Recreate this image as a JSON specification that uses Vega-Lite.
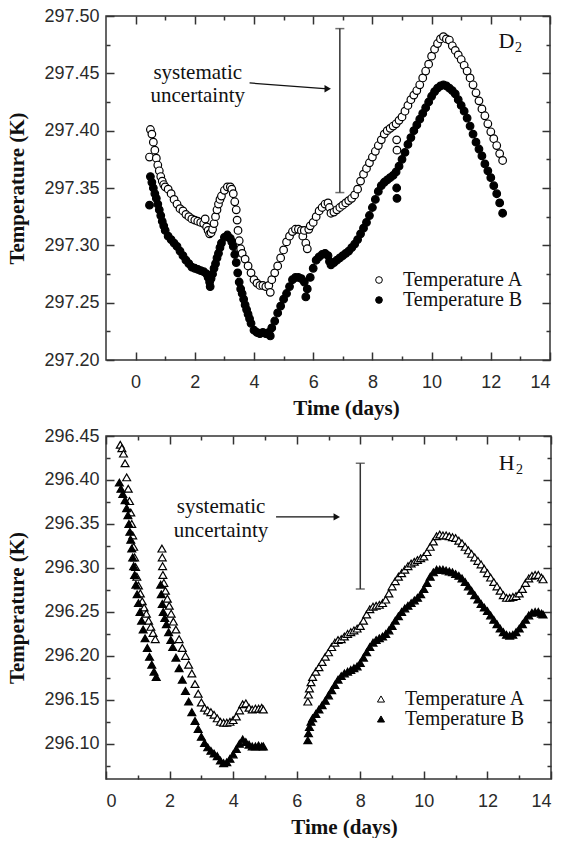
{
"$schema":"https://vega.github.io/schema/vega-lite/v6.json",
"padding":{"left":6,"top":6,"right":0,"bottom":0},
"background":"white",
"spacing":7,
"config":{
 "view":{"stroke":"#333","strokeWidth":1.5},
 "axis":{"labelFont":"Liberation Sans","labelFontSize":18,"labelColor":"#2a2a2a","titleFont":"Liberation Serif","titleFontSize":21,"titleFontWeight":"bold","titleColor":"#111","tickColor":"#333","tickWidth":1.5,"domain":false,"grid":false},
 "legend":{"labelFont":"Liberation Serif","labelFontSize":20,"labelColor":"#111"}
},
"resolve":{"scale":{"x":"independent","y":"independent","fill":"independent"},"legend":{"fill":"independent"}},
"datasets":{
"d2":[
{"t":0.47,"A":297.377,"B":297.335},
{"t":0.5,"A":297.401,"B":297.360},{"t":0.55,"A":297.397,"B":297.355},{"t":0.6,"A":297.390,"B":297.350},{"t":0.65,"A":297.383,"B":297.345},{"t":0.7,"A":297.376,"B":297.341},{"t":0.75,"A":297.370,"B":297.336},{"t":0.8,"A":297.365,"B":297.331},{"t":0.85,"A":297.360,"B":297.326},{"t":0.9,"A":297.356,"B":297.321},{"t":0.95,"A":297.353,"B":297.317},{"t":1.0,"A":297.351,"B":297.313},
{"t":1.1,"A":297.349,"B":297.308},{"t":1.2,"A":297.345,"B":297.305},{"t":1.3,"A":297.340,"B":297.302},{"t":1.4,"A":297.336,"B":297.299},{"t":1.5,"A":297.332,"B":297.295},{"t":1.6,"A":297.330,"B":297.291},{"t":1.7,"A":297.327,"B":297.287},{"t":1.8,"A":297.325,"B":297.284},{"t":1.9,"A":297.323,"B":297.281},{"t":2.0,"A":297.322,"B":297.280},{"t":2.1,"A":297.321,"B":297.279},{"t":2.2,"A":297.320,"B":297.278},{"t":2.3,"A":297.319,"B":297.277},{"t":2.35,"A":297.323},{"t":2.4,"A":297.316,"B":297.275},
{"t":2.45,"A":297.313,"B":297.272},{"t":2.5,"A":297.310,"B":297.268},{"t":2.52,"B":297.264},{"t":2.55,"A":297.311,"B":297.271},{"t":2.6,"A":297.314,"B":297.275},{"t":2.65,"A":297.319,"B":297.280},{"t":2.7,"A":297.325,"B":297.284},{"t":2.75,"A":297.331,"B":297.289},{"t":2.8,"A":297.336,"B":297.293},{"t":2.85,"A":297.340,"B":297.298},{"t":2.9,"A":297.343,"B":297.302},{"t":3.0,"A":297.348,"B":297.307},{"t":3.1,"A":297.351,"B":297.309},{"t":3.2,"A":297.351,"B":297.306},{"t":3.25,"A":297.349,"B":297.303},{"t":3.3,"A":297.345,"B":297.299},{"t":3.35,"A":297.338,"B":297.292},{"t":3.4,"A":297.331,"B":297.285},{"t":3.43,"A":297.322},{"t":3.45,"B":297.276},{"t":3.46,"A":297.313},{"t":3.5,"A":297.304,"B":297.268},{"t":3.55,"A":297.297,"B":297.262},{"t":3.6,"A":297.293,"B":297.258},{"t":3.65,"B":297.253},{"t":3.7,"A":297.288,"B":297.248},{"t":3.75,"B":297.244},{"t":3.8,"A":297.282,"B":297.240},{"t":3.85,"B":297.236},{"t":3.9,"A":297.276,"B":297.232},
{"t":4.0,"A":297.270,"B":297.226},{"t":4.1,"A":297.267,"B":297.224},{"t":4.2,"A":297.265,"B":297.223},{"t":4.3,"A":297.265,"B":297.224},{"t":4.4,"A":297.264,"B":297.223},{"t":4.5,"A":297.265,"B":297.224},{"t":4.55,"A":297.259,"B":297.221},{"t":4.6,"A":297.270,"B":297.228},{"t":4.7,"A":297.276,"B":297.234},{"t":4.8,"A":297.282,"B":297.241},{"t":4.9,"A":297.289,"B":297.247},{"t":5.0,"A":297.296,"B":297.253},{"t":5.1,"A":297.303,"B":297.258},{"t":5.2,"A":297.308,"B":297.264},{"t":5.3,"A":297.312,"B":297.270},{"t":5.4,"A":297.314,"B":297.272},{"t":5.5,"A":297.314,"B":297.272},{"t":5.6,"A":297.313,"B":297.271},{"t":5.65,"A":297.308},{"t":5.7,"A":297.313,"B":297.268},{"t":5.75,"A":297.302,"B":297.255},{"t":5.8,"A":297.297,"B":297.262},{"t":5.85,"A":297.314},{"t":5.9,"A":297.317,"B":297.272},
{"t":6.0,"A":297.320,"B":297.280},{"t":6.1,"A":297.325,"B":297.287},{"t":6.2,"A":297.330,"B":297.290},{"t":6.3,"A":297.333,"B":297.292},{"t":6.4,"A":297.336,"B":297.293},{"t":6.5,"A":297.337,"B":297.291},{"t":6.55,"A":297.333,"B":297.286},{"t":6.6,"A":297.328,"B":297.283},{"t":6.7,"A":297.329,"B":297.285},{"t":6.8,"A":297.331,"B":297.287},{"t":6.9,"A":297.333,"B":297.289},{"t":7.0,"A":297.335,"B":297.291},{"t":7.1,"A":297.337,"B":297.293},{"t":7.2,"A":297.339,"B":297.295},{"t":7.3,"A":297.341,"B":297.298},{"t":7.4,"A":297.344,"B":297.301},{"t":7.5,"A":297.349,"B":297.305},{"t":7.6,"A":297.356,"B":297.310},{"t":7.7,"A":297.362,"B":297.315},{"t":7.8,"A":297.367,"B":297.320},{"t":7.9,"A":297.372,"B":297.326},
{"t":8.0,"A":297.377,"B":297.333},{"t":8.1,"A":297.382,"B":297.340},{"t":8.2,"A":297.387,"B":297.347},{"t":8.3,"A":297.392,"B":297.352},{"t":8.4,"A":297.397,"B":297.355},{"t":8.5,"A":297.400,"B":297.357},{"t":8.6,"A":297.402,"B":297.359},{"t":8.7,"A":297.404,"B":297.361},{"t":8.8,"A":297.406,"B":297.364},{"t":8.82,"A":297.392,"B":297.350},{"t":8.83,"A":297.383,"B":297.341},{"t":8.9,"A":297.409,"B":297.369},
{"t":9.0,"A":297.412,"B":297.375},{"t":9.1,"A":297.417,"B":297.381},{"t":9.2,"A":297.422,"B":297.388},{"t":9.3,"A":297.427,"B":297.394},{"t":9.4,"A":297.431,"B":297.400},{"t":9.5,"A":297.435,"B":297.405},{"t":9.6,"A":297.440,"B":297.410},{"t":9.7,"A":297.446,"B":297.415},{"t":9.8,"A":297.452,"B":297.420},{"t":9.9,"A":297.458,"B":297.425},
{"t":10.0,"A":297.465,"B":297.430},{"t":10.1,"A":297.471,"B":297.434},{"t":10.2,"A":297.476,"B":297.437},{"t":10.3,"A":297.480,"B":297.439},{"t":10.4,"A":297.482,"B":297.440},{"t":10.5,"A":297.480,"B":297.439},{"t":10.6,"A":297.479,"B":297.437},{"t":10.7,"A":297.474,"B":297.435},{"t":10.8,"A":297.470,"B":297.432},{"t":10.9,"A":297.466,"B":297.427},
{"t":11.0,"A":297.462,"B":297.422},{"t":11.1,"A":297.457,"B":297.417},{"t":11.2,"A":297.452,"B":297.411},{"t":11.3,"A":297.446,"B":297.404},{"t":11.4,"A":297.440,"B":297.397},{"t":11.5,"A":297.433,"B":297.390},{"t":11.6,"A":297.426,"B":297.384},{"t":11.7,"A":297.419,"B":297.378},{"t":11.8,"A":297.413,"B":297.371},{"t":11.9,"A":297.406,"B":297.365},
{"t":12.0,"A":297.399,"B":297.359},{"t":12.1,"A":297.393,"B":297.352},{"t":12.2,"A":297.387,"B":297.345},{"t":12.3,"A":297.380,"B":297.337},{"t":12.4,"A":297.374,"B":297.328}
],
"h2":[
{"s":"A","t":0.45,"v":296.440},{"s":"A","t":0.5,"v":296.436},{"s":"A","t":0.55,"v":296.430},{"s":"A","t":0.6,"v":296.419},{"s":"A","t":0.65,"v":296.403},{"s":"A","t":0.7,"v":296.390},{"s":"A","t":0.74,"v":296.376},{"s":"A","t":0.78,"v":296.363},{"s":"A","t":0.81,"v":296.350},{"s":"A","t":0.84,"v":296.337},{"s":"A","t":0.87,"v":296.324},{"s":"A","t":0.9,"v":296.312},{"s":"A","t":0.93,"v":296.301},{"s":"A","t":0.97,"v":296.290},{"s":"A","t":1.02,"v":296.280},{"s":"A","t":1.08,"v":296.271},{"s":"A","t":1.14,"v":296.262},{"s":"A","t":1.2,"v":296.255},{"s":"A","t":1.27,"v":296.248},{"s":"A","t":1.34,"v":296.240},{"s":"A","t":1.41,"v":296.233},{"s":"A","t":1.48,"v":296.226},{"s":"A","t":1.55,"v":296.219},
{"s":"B","t":0.42,"v":296.397},{"s":"B","t":0.47,"v":296.390},{"s":"B","t":0.53,"v":296.384},{"s":"B","t":0.6,"v":296.377},{"s":"B","t":0.65,"v":296.368},{"s":"B","t":0.69,"v":296.360},{"s":"B","t":0.72,"v":296.350},{"s":"B","t":0.75,"v":296.341},{"s":"B","t":0.78,"v":296.332},{"s":"B","t":0.81,"v":296.322},{"s":"B","t":0.84,"v":296.312},{"s":"B","t":0.87,"v":296.302},{"s":"B","t":0.9,"v":296.292},{"s":"B","t":0.94,"v":296.281},{"s":"B","t":0.98,"v":296.270},{"s":"B","t":1.02,"v":296.260},{"s":"B","t":1.07,"v":296.250},{"s":"B","t":1.12,"v":296.240},{"s":"B","t":1.17,"v":296.230},{"s":"B","t":1.23,"v":296.220},{"s":"B","t":1.3,"v":296.209},{"s":"B","t":1.37,"v":296.199},{"s":"B","t":1.44,"v":296.190},{"s":"B","t":1.51,"v":296.182},{"s":"B","t":1.58,"v":296.176},
{"s":"A","t":1.76,"v":296.322},{"s":"A","t":1.77,"v":296.312},{"s":"A","t":1.78,"v":296.302},{"s":"A","t":1.79,"v":296.292},{"s":"A","t":1.82,"v":296.283},{"s":"A","t":1.87,"v":296.274},{"s":"A","t":1.93,"v":296.265},{"s":"A","t":1.99,"v":296.257},{"s":"A","t":2.05,"v":296.248},{"s":"A","t":2.12,"v":296.239},{"s":"A","t":2.2,"v":296.230},{"s":"A","t":2.3,"v":296.219},{"s":"A","t":2.4,"v":296.209},{"s":"A","t":2.5,"v":296.200},{"s":"A","t":2.6,"v":296.190},{"s":"A","t":2.7,"v":296.180},{"s":"A","t":2.8,"v":296.168},{"s":"A","t":2.9,"v":296.157},{"s":"A","t":3.0,"v":296.147},{"s":"A","t":3.1,"v":296.141},{"s":"A","t":3.2,"v":296.138},{"s":"A","t":3.3,"v":296.136},{"s":"A","t":3.4,"v":296.133},{"s":"A","t":3.5,"v":296.129},{"s":"A","t":3.6,"v":296.125},{"s":"A","t":3.7,"v":296.124},{"s":"A","t":3.8,"v":296.124},{"s":"A","t":3.9,"v":296.125},{"s":"A","t":4.0,"v":296.127},{"s":"A","t":4.1,"v":296.131},{"s":"A","t":4.2,"v":296.138},{"s":"A","t":4.3,"v":296.145},{"s":"A","t":4.4,"v":296.146},{"s":"A","t":4.5,"v":296.141},{"s":"A","t":4.6,"v":296.139},{"s":"A","t":4.7,"v":296.140},{"s":"A","t":4.8,"v":296.140},{"s":"A","t":4.9,"v":296.141},{"s":"A","t":4.95,"v":296.139},
{"s":"B","t":1.72,"v":296.281},{"s":"B","t":1.74,"v":296.270},{"s":"B","t":1.77,"v":296.259},{"s":"B","t":1.8,"v":296.250},{"s":"B","t":1.85,"v":296.243},{"s":"B","t":1.9,"v":296.236},{"s":"B","t":1.97,"v":296.227},{"s":"B","t":2.04,"v":296.218},{"s":"B","t":2.1,"v":296.210},{"s":"B","t":2.2,"v":296.198},{"s":"B","t":2.3,"v":296.186},{"s":"B","t":2.4,"v":296.173},{"s":"B","t":2.5,"v":296.160},{"s":"B","t":2.6,"v":296.148},{"s":"B","t":2.7,"v":296.136},{"s":"B","t":2.8,"v":296.126},{"s":"B","t":2.9,"v":296.117},{"s":"B","t":3.0,"v":296.108},{"s":"B","t":3.1,"v":296.101},{"s":"B","t":3.2,"v":296.096},{"s":"B","t":3.3,"v":296.092},{"s":"B","t":3.4,"v":296.089},{"s":"B","t":3.5,"v":296.086},{"s":"B","t":3.6,"v":296.081},{"s":"B","t":3.7,"v":296.078},{"s":"B","t":3.8,"v":296.079},{"s":"B","t":3.9,"v":296.083},{"s":"B","t":4.0,"v":296.088},{"s":"B","t":4.1,"v":296.094},{"s":"B","t":4.2,"v":296.100},{"s":"B","t":4.3,"v":296.105},{"s":"B","t":4.4,"v":296.102},{"s":"B","t":4.5,"v":296.099},{"s":"B","t":4.6,"v":296.097},{"s":"B","t":4.7,"v":296.097},{"s":"B","t":4.8,"v":296.098},{"s":"B","t":4.9,"v":296.097},{"s":"B","t":4.95,"v":296.097},
{"s":"A","t":6.35,"v":296.148},{"s":"A","t":6.37,"v":296.156},{"s":"A","t":6.4,"v":296.163},{"s":"A","t":6.45,"v":296.170},{"s":"A","t":6.5,"v":296.176},{"s":"A","t":6.6,"v":296.182},{"s":"A","t":6.7,"v":296.187},{"s":"A","t":6.8,"v":296.193},{"s":"A","t":6.9,"v":296.199},{"s":"A","t":7.0,"v":296.204},{"s":"A","t":7.1,"v":296.210},{"s":"A","t":7.2,"v":296.215},{"s":"A","t":7.3,"v":296.218},{"s":"A","t":7.4,"v":296.219},{"s":"A","t":7.5,"v":296.222},{"s":"A","t":7.6,"v":296.225},{"s":"A","t":7.7,"v":296.227},{"s":"A","t":7.8,"v":296.229},{"s":"A","t":7.9,"v":296.231},{"s":"A","t":8.0,"v":296.234},{"s":"A","t":8.1,"v":296.240},{"s":"A","t":8.2,"v":296.247},{"s":"A","t":8.3,"v":296.253},{"s":"A","t":8.4,"v":296.256},{"s":"A","t":8.5,"v":296.257},{"s":"A","t":8.6,"v":296.258},{"s":"A","t":8.7,"v":296.260},{"s":"A","t":8.8,"v":296.264},{"s":"A","t":8.9,"v":296.271},{"s":"A","t":9.0,"v":296.279},{"s":"A","t":9.1,"v":296.285},{"s":"A","t":9.2,"v":296.290},{"s":"A","t":9.3,"v":296.294},{"s":"A","t":9.4,"v":296.298},{"s":"A","t":9.5,"v":296.302},{"s":"A","t":9.6,"v":296.305},{"s":"A","t":9.7,"v":296.307},{"s":"A","t":9.8,"v":296.309},{"s":"A","t":9.9,"v":296.311},{"s":"A","t":10.0,"v":296.313},{"s":"A","t":10.1,"v":296.318},{"s":"A","t":10.2,"v":296.324},{"s":"A","t":10.3,"v":296.330},{"s":"A","t":10.4,"v":296.336},{"s":"A","t":10.5,"v":296.338},{"s":"A","t":10.6,"v":296.337},{"s":"A","t":10.7,"v":296.337},{"s":"A","t":10.8,"v":296.336},{"s":"A","t":10.9,"v":296.335},{"s":"A","t":11.0,"v":296.334},{"s":"A","t":11.1,"v":296.331},{"s":"A","t":11.2,"v":296.328},{"s":"A","t":11.3,"v":296.324},{"s":"A","t":11.4,"v":296.320},{"s":"A","t":11.5,"v":296.316},{"s":"A","t":11.6,"v":296.312},{"s":"A","t":11.7,"v":296.308},{"s":"A","t":11.8,"v":296.304},{"s":"A","t":11.9,"v":296.299},{"s":"A","t":12.0,"v":296.294},{"s":"A","t":12.1,"v":296.289},{"s":"A","t":12.2,"v":296.284},{"s":"A","t":12.3,"v":296.279},{"s":"A","t":12.4,"v":296.274},{"s":"A","t":12.5,"v":296.269},{"s":"A","t":12.6,"v":296.266},{"s":"A","t":12.7,"v":296.266},{"s":"A","t":12.8,"v":296.267},{"s":"A","t":12.9,"v":296.268},{"s":"A","t":13.0,"v":296.271},{"s":"A","t":13.1,"v":296.276},{"s":"A","t":13.2,"v":296.283},{"s":"A","t":13.3,"v":296.288},{"s":"A","t":13.4,"v":296.291},{"s":"A","t":13.5,"v":296.292},{"s":"A","t":13.6,"v":296.292},{"s":"A","t":13.7,"v":296.289},{"s":"A","t":13.75,"v":296.287},
{"s":"B","t":6.35,"v":296.104},{"s":"B","t":6.37,"v":296.112},{"s":"B","t":6.4,"v":296.119},{"s":"B","t":6.45,"v":296.125},{"s":"B","t":6.5,"v":296.129},{"s":"B","t":6.6,"v":296.134},{"s":"B","t":6.7,"v":296.139},{"s":"B","t":6.8,"v":296.144},{"s":"B","t":6.9,"v":296.149},{"s":"B","t":7.0,"v":296.155},{"s":"B","t":7.1,"v":296.161},{"s":"B","t":7.2,"v":296.167},{"s":"B","t":7.3,"v":296.173},{"s":"B","t":7.4,"v":296.177},{"s":"B","t":7.5,"v":296.180},{"s":"B","t":7.6,"v":296.182},{"s":"B","t":7.7,"v":296.184},{"s":"B","t":7.8,"v":296.186},{"s":"B","t":7.9,"v":296.188},{"s":"B","t":8.0,"v":296.192},{"s":"B","t":8.1,"v":296.198},{"s":"B","t":8.2,"v":296.204},{"s":"B","t":8.3,"v":296.210},{"s":"B","t":8.4,"v":296.215},{"s":"B","t":8.5,"v":296.218},{"s":"B","t":8.6,"v":296.220},{"s":"B","t":8.7,"v":296.222},{"s":"B","t":8.8,"v":296.225},{"s":"B","t":8.9,"v":296.229},{"s":"B","t":9.0,"v":296.234},{"s":"B","t":9.1,"v":296.240},{"s":"B","t":9.2,"v":296.245},{"s":"B","t":9.3,"v":296.250},{"s":"B","t":9.4,"v":296.254},{"s":"B","t":9.5,"v":296.257},{"s":"B","t":9.6,"v":296.260},{"s":"B","t":9.7,"v":296.263},{"s":"B","t":9.8,"v":296.266},{"s":"B","t":9.9,"v":296.270},{"s":"B","t":10.0,"v":296.276},{"s":"B","t":10.1,"v":296.283},{"s":"B","t":10.2,"v":296.290},{"s":"B","t":10.3,"v":296.295},{"s":"B","t":10.4,"v":296.298},{"s":"B","t":10.5,"v":296.298},{"s":"B","t":10.6,"v":296.298},{"s":"B","t":10.7,"v":296.297},{"s":"B","t":10.8,"v":296.296},{"s":"B","t":10.9,"v":296.295},{"s":"B","t":11.0,"v":296.293},{"s":"B","t":11.1,"v":296.291},{"s":"B","t":11.2,"v":296.288},{"s":"B","t":11.3,"v":296.284},{"s":"B","t":11.4,"v":296.279},{"s":"B","t":11.5,"v":296.274},{"s":"B","t":11.6,"v":296.269},{"s":"B","t":11.7,"v":296.264},{"s":"B","t":11.8,"v":296.259},{"s":"B","t":11.9,"v":296.255},{"s":"B","t":12.0,"v":296.251},{"s":"B","t":12.1,"v":296.246},{"s":"B","t":12.2,"v":296.241},{"s":"B","t":12.3,"v":296.236},{"s":"B","t":12.4,"v":296.231},{"s":"B","t":12.5,"v":296.227},{"s":"B","t":12.6,"v":296.224},{"s":"B","t":12.7,"v":296.223},{"s":"B","t":12.8,"v":296.224},{"s":"B","t":12.9,"v":296.227},{"s":"B","t":13.0,"v":296.231},{"s":"B","t":13.1,"v":296.236},{"s":"B","t":13.2,"v":296.241},{"s":"B","t":13.3,"v":296.246},{"s":"B","t":13.4,"v":296.249},{"s":"B","t":13.5,"v":296.250},{"s":"B","t":13.6,"v":296.250},{"s":"B","t":13.7,"v":296.248},{"s":"B","t":13.75,"v":296.247}
]
},
"vconcat":[
{
 "width":444,"height":344,
 "resolve":{"axis":{"x":"independent","y":"independent"}},
 "layer":[
  {"data":{"name":"d2"},
   "transform":[{"fold":["A","B"],"as":["s","v"]},{"filter":"isValid(datum.v)"}],
   "mark":{"type":"point","shape":"circle","filled":true,"stroke":"black","strokeWidth":1.2,"size":58,"opacity":1},
   "encoding":{
    "x":{"field":"t","type":"quantitative","scale":{"domain":[-1,14],"nice":false,"zero":false},
      "axis":{"orient":"bottom","values":[0,2,4,6,8,10,12,14],"tickSize":-8,"labelPadding":21,"title":"Time (days)","titleX":240,"titleAlign":"center","titlePadding":6}},
    "y":{"field":"v","type":"quantitative","scale":{"domain":[297.2,297.5],"nice":false,"zero":false},
      "axis":{"orient":"left","values":[297.2,297.25,297.3,297.35,297.4,297.45,297.5],"format":".2f","tickSize":-8,"labelPadding":15,"title":"Temperature (K)","titlePadding":16}},
    "fill":{"field":"s","type":"nominal","scale":{"domain":["A","B"],"range":["white","black"]},
      "legend":{"title":null,"orient":"none","legendX":263,"legendY":254,"labelExpr":"'Temperature ' + datum.label","symbolType":"circle","symbolStrokeColor":"black","symbolStrokeWidth":1,"symbolSize":45,"labelOffset":14,"rowPadding":0,"padding":0}}
   }},
  {"data":{"values":[{"t":6.9,"lo":297.346,"hi":297.489}]},
   "mark":{"type":"rule","color":"#333","strokeWidth":1.5},
   "encoding":{
    "x":{"field":"t","type":"quantitative","scale":{"domain":[-1,14],"nice":false,"zero":false},
      "axis":{"orient":"top","values":[0,2,4,6,8,10,12,14],"labels":false,"title":null,"tickSize":-8}},
    "y":{"field":"lo","type":"quantitative","scale":{"domain":[297.2,297.5],"nice":false,"zero":false},
      "axis":{"orient":"right","values":[297.2,297.25,297.3,297.35,297.4,297.45,297.5],"labels":false,"title":null,"tickSize":-8}},
    "y2":{"field":"hi"}
   }},
  {"data":{"values":[{"t":6.9,"v":297.346},{"t":6.9,"v":297.489}]},
   "mark":{"type":"tick","orient":"horizontal","size":9,"thickness":1.5,"color":"#333"},
   "encoding":{
    "x":{"field":"t","type":"quantitative","scale":{"domain":[-1,14],"nice":false,"zero":false},
      "axis":{"orient":"bottom","values":[1,3,5,7,9,11,13],"labels":false,"title":null,"tickSize":-4}},
    "y":{"field":"v","type":"quantitative","scale":{"domain":[297.2,297.5],"nice":false,"zero":false},
      "axis":{"orient":"left","values":[297.225,297.275,297.325,297.375,297.425,297.475],"labels":false,"title":null,"tickSize":-4}}
   }},
  {"data":{"values":[{"t":3.85,"v":297.4416,"t2":6.49,"v2":297.4365}]},
   "mark":{"type":"rule","color":"#111","strokeWidth":1.3},
   "encoding":{
    "x":{"field":"t","type":"quantitative","scale":{"domain":[-1,14],"nice":false,"zero":false},
      "axis":{"orient":"top","values":[1,3,5,7,9,11,13],"labels":false,"title":null,"tickSize":-4}},
    "y":{"field":"v","type":"quantitative","scale":{"domain":[297.2,297.5],"nice":false,"zero":false},
      "axis":{"orient":"right","values":[297.225,297.275,297.325,297.375,297.425,297.475],"labels":false,"title":null,"tickSize":-4}},
    "x2":{"field":"t2"},"y2":{"field":"v2"}
   }},
  {"data":{"values":[{"t":6.49,"v":297.4365}]},
   "mark":{"type":"point","shape":"triangle-right","filled":true,"color":"#111","size":55,"opacity":1},
   "encoding":{
    "x":{"field":"t","type":"quantitative","scale":{"domain":[-1,14],"nice":false,"zero":false},"axis":null},
    "y":{"field":"v","type":"quantitative","scale":{"domain":[297.2,297.5],"nice":false,"zero":false},"axis":null}
   }},
  {"data":{"values":[{"t":2.1,"v":297.445,"txt":"systematic"},{"t":2.1,"v":297.425,"txt":"uncertainty"}]},
   "mark":{"type":"text","font":"Liberation Serif","fontSize":21,"align":"center","baseline":"alphabetic","color":"#111"},
   "encoding":{
    "x":{"field":"t","type":"quantitative","scale":{"domain":[-1,14],"nice":false,"zero":false},"axis":null},
    "y":{"field":"v","type":"quantitative","scale":{"domain":[297.2,297.5],"nice":false,"zero":false},"axis":null},
    "text":{"field":"txt"}
   }},
  {"data":{"values":[{"t":12.26,"v":297.472,"txt":"D","fs":22},{"t":12.82,"v":297.469,"txt":"2","fs":14}]},
   "mark":{"type":"text","font":"Liberation Serif","align":"left","baseline":"alphabetic","color":"#111"},
   "encoding":{
    "x":{"field":"t","type":"quantitative","scale":{"domain":[-1,14],"nice":false,"zero":false},"axis":null},
    "y":{"field":"v","type":"quantitative","scale":{"domain":[297.2,297.5],"nice":false,"zero":false},"axis":null},
    "text":{"field":"txt"},
    "size":{"field":"fs","type":"quantitative","scale":null,"legend":null}
   }}
 ]
},
{
 "width":445,"height":343,
 "resolve":{"axis":{"x":"independent","y":"independent"}},
 "layer":[
  {"data":{"name":"h2"},
   "mark":{"type":"point","shape":"triangle-up","filled":true,"stroke":"black","strokeWidth":1.2,"size":62,"opacity":1},
   "encoding":{
    "x":{"field":"t","type":"quantitative","scale":{"domain":[0,14],"nice":false,"zero":false},
      "axis":{"orient":"bottom","values":[0,2,4,6,8,10,12,14],"tickSize":-8,"labelPadding":21,"title":"Time (days)","titleX":238,"titleAlign":"center","titlePadding":6}},
    "y":{"field":"v","type":"quantitative","scale":{"domain":[296.06,296.45],"nice":false,"zero":false},
      "axis":{"orient":"left","values":[296.1,296.15,296.2,296.25,296.3,296.35,296.4,296.45],"format":".2f","tickSize":-8,"labelPadding":15,"title":"Temperature (K)","titlePadding":16}},
    "fill":{"field":"s","type":"nominal","scale":{"domain":["A","B"],"range":["white","black"]},
      "legend":{"title":null,"orient":"none","legendX":265,"legendY":253,"labelExpr":"'Temperature ' + datum.label","symbolType":"triangle-up","symbolStrokeColor":"black","symbolStrokeWidth":1,"symbolSize":50,"labelOffset":14,"rowPadding":0,"padding":0}}
   }},
  {"data":{"values":[{"t":8.0,"lo":296.276,"hi":296.419}]},
   "mark":{"type":"rule","color":"#333","strokeWidth":1.5},
   "encoding":{
    "x":{"field":"t","type":"quantitative","scale":{"domain":[0,14],"nice":false,"zero":false},
      "axis":{"orient":"top","values":[0,2,4,6,8,10,12,14],"labels":false,"title":null,"tickSize":-8}},
    "y":{"field":"lo","type":"quantitative","scale":{"domain":[296.06,296.45],"nice":false,"zero":false},
      "axis":{"orient":"right","values":[296.1,296.15,296.2,296.25,296.3,296.35,296.4,296.45],"labels":false,"title":null,"tickSize":-8}},
    "y2":{"field":"hi"}
   }},
  {"data":{"values":[{"t":8.0,"v":296.276},{"t":8.0,"v":296.419}]},
   "mark":{"type":"tick","orient":"horizontal","size":9,"thickness":1.5,"color":"#333"},
   "encoding":{
    "x":{"field":"t","type":"quantitative","scale":{"domain":[0,14],"nice":false,"zero":false},
      "axis":{"orient":"bottom","values":[1,3,5,7,9,11,13],"labels":false,"title":null,"tickSize":-4}},
    "y":{"field":"v","type":"quantitative","scale":{"domain":[296.06,296.45],"nice":false,"zero":false},
      "axis":{"orient":"left","values":[296.075,296.125,296.175,296.225,296.275,296.325,296.375,296.425],"labels":false,"title":null,"tickSize":-4}}
   }},
  {"data":{"values":[{"t":5.35,"v":296.358,"t2":7.26,"v2":296.358}]},
   "mark":{"type":"rule","color":"#111","strokeWidth":1.3},
   "encoding":{
    "x":{"field":"t","type":"quantitative","scale":{"domain":[0,14],"nice":false,"zero":false},
      "axis":{"orient":"top","values":[1,3,5,7,9,11,13],"labels":false,"title":null,"tickSize":-4}},
    "y":{"field":"v","type":"quantitative","scale":{"domain":[296.06,296.45],"nice":false,"zero":false},
      "axis":{"orient":"right","values":[296.075,296.125,296.175,296.225,296.275,296.325,296.375,296.425],"labels":false,"title":null,"tickSize":-4}},
    "x2":{"field":"t2"},"y2":{"field":"v2"}
   }},
  {"data":{"values":[{"t":7.26,"v":296.358}]},
   "mark":{"type":"point","shape":"triangle-right","filled":true,"color":"#111","size":55,"opacity":1},
   "encoding":{
    "x":{"field":"t","type":"quantitative","scale":{"domain":[0,14],"nice":false,"zero":false},"axis":null},
    "y":{"field":"v","type":"quantitative","scale":{"domain":[296.06,296.45],"nice":false,"zero":false},"axis":null}
   }},
  {"data":{"values":[{"t":3.62,"v":296.362,"txt":"systematic"},{"t":3.62,"v":296.335,"txt":"uncertainty"}]},
   "mark":{"type":"text","font":"Liberation Serif","fontSize":21,"align":"center","baseline":"alphabetic","color":"#111"},
   "encoding":{
    "x":{"field":"t","type":"quantitative","scale":{"domain":[0,14],"nice":false,"zero":false},"axis":null},
    "y":{"field":"v","type":"quantitative","scale":{"domain":[296.06,296.45],"nice":false,"zero":false},"axis":null},
    "text":{"field":"txt"}
   }},
  {"data":{"values":[{"t":12.36,"v":296.411,"txt":"H","fs":22},{"t":12.9,"v":296.407,"txt":"2","fs":14}]},
   "mark":{"type":"text","font":"Liberation Serif","align":"left","baseline":"alphabetic","color":"#111"},
   "encoding":{
    "x":{"field":"t","type":"quantitative","scale":{"domain":[0,14],"nice":false,"zero":false},"axis":null},
    "y":{"field":"v","type":"quantitative","scale":{"domain":[296.06,296.45],"nice":false,"zero":false},"axis":null},
    "text":{"field":"txt"},
    "size":{"field":"fs","type":"quantitative","scale":null,"legend":null}
   }}
 ]
}
]
}
